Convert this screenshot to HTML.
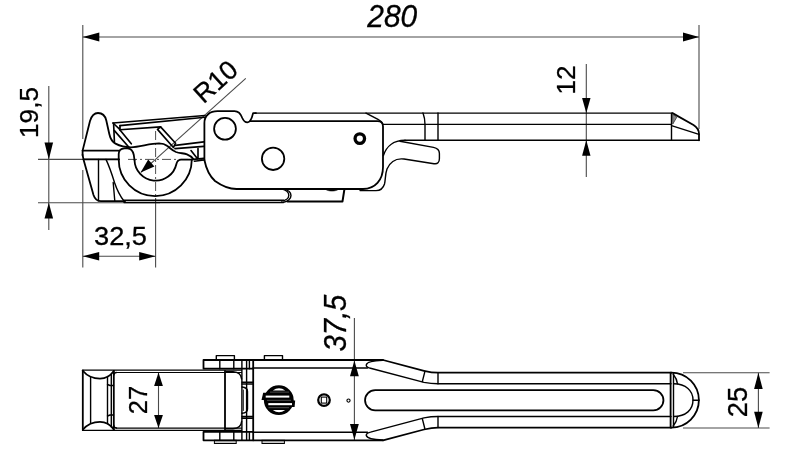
<!DOCTYPE html>
<html>
<head>
<meta charset="utf-8">
<title>Toggle latch dimension drawing</title>
<style>
  html, body { margin: 0; padding: 0; background: #ffffff; }
  body { width: 800px; height: 450px; overflow: hidden; font-family: "Liberation Sans", sans-serif; }
  svg { display: block; }
  .k { fill: none; stroke: #000; stroke-width: 1.8; stroke-linecap: round; stroke-linejoin: round; }
  .m { fill: none; stroke: #000; stroke-width: 1.4; stroke-linecap: round; stroke-linejoin: round; }
  .n { fill: none; stroke: #000; stroke-width: 1.65; stroke-linecap: round; stroke-linejoin: round; }
  .t { fill: none; stroke: #111; stroke-width: 1.0; stroke-linecap: round; stroke-linejoin: round; }
  .d { fill: none; stroke: #4a4a4a; stroke-width: 1.1; }
  .c { fill: none; stroke: #222; stroke-width: 0.8; stroke-dasharray: 9 3 2 3; }
  .a { fill: #000; stroke: none; }
  text { font-family: "Liberation Sans", sans-serif; fill: #000; stroke: #000; stroke-width: 0.3; }
</style>
</head>
<body>
<svg width="800" height="450" viewBox="0 0 800 450" style="will-change: transform; opacity: 0.999">
<rect x="0" y="0" width="800" height="450" fill="#ffffff"/>

<!-- ================= DIMENSIONS : TOP VIEW ================= -->
<g id="dims-top">
  <!-- 280 -->
  <line class="d" x1="82.8" y1="25" x2="82.8" y2="139"/>
  <line class="d" x1="82.8" y1="170" x2="82.8" y2="267.5"/>
  <line class="d" x1="699" y1="25" x2="699" y2="129"/>
  <line class="d" x1="82.8" y1="37" x2="699" y2="37"/>
  <polygon class="a" points="82.8,37 99.3,32.5 99.3,41.5"/>
  <polygon class="a" points="699,37 683,32.5 683,41.5"/>
  <text id="t280" x="392.3" y="26.8" font-size="31.8" font-style="italic" text-anchor="middle" textLength="50" lengthAdjust="spacingAndGlyphs">280</text>

  <!-- 12 -->
  <line class="d" x1="586.3" y1="64" x2="586.3" y2="177"/>
  <polygon class="a" points="586.3,113 582.1,98 590.5,98"/>
  <polygon class="a" points="586.3,140.3 582.1,155.8 590.5,155.8"/>
  <text id="t12" transform="translate(574.7,94.6) rotate(-90)" font-size="26.2">12</text>

  <!-- 19,5 -->
  <line class="d" x1="48.8" y1="86" x2="48.8" y2="230"/>
  <line class="d" x1="38" y1="159.4" x2="120" y2="159.4"/>
  <line class="d" x1="38" y1="202.75" x2="160" y2="202.75"/>
  <polygon class="a" points="48.8,159.4 44.5,142.5 53.1,142.5"/>
  <polygon class="a" points="48.8,202.75 44.5,218.5 53.1,218.5"/>
  <text id="t195" transform="translate(38.2,138) rotate(-90)" font-size="26.2">19,5</text>

  <!-- 32,5 -->
  <line class="c" x1="155.6" y1="131" x2="155.6" y2="200"/>
  <line class="d" x1="155.6" y1="198" x2="155.6" y2="267.5"/>
  <line class="d" x1="82.8" y1="256.2" x2="155.6" y2="256.2"/>
  <polygon class="a" points="82.8,256.2 99.2,252 99.2,260.4"/>
  <polygon class="a" points="155.6,256.2 139.2,252 139.2,260.4"/>
  <text id="t325" x="94" y="245.4" font-size="25.8" textLength="53" lengthAdjust="spacingAndGlyphs">32,5</text>

  <!-- R10 leader -->
  <line class="d" x1="245.8" y1="78.3" x2="141" y2="172.3"/>
  <polygon class="a" points="140.6,172.6 148.2,159.6 154.4,166.6"/>
  <text id="tR10" transform="translate(203.6,104.6) rotate(-42)" font-size="26.5">R10</text>

  <!-- centre lines -->
  <line class="c" x1="128" y1="159.4" x2="192" y2="159.4"/>
</g>

<!-- ================= TOP VIEW (side elevation) ================= -->
<g id="view-side">
  <!-- catch hook -->
  <path class="k" d="M82.6,155 L82.6,150.6 L90,121 C92,114.5 95,113 98,113 C102,113 105,115 106.3,120.5 L109.3,134 C110.5,139.5 112.5,142 115.5,143.6 C120,146 125,147.3 131,147.3 C140,147 150,143.4 159,143.4 C163,143.5 165.5,144.6 167,145.8 C170,148 172.5,150.6 176,152 C179.5,153.3 184,153.2 187,154.3 C190,155.5 192,157 193.3,159"/>
  <path class="k" d="M82.6,150.6 H118.6"/>
  <path class="k" d="M82.6,155 L83.5,159.4 H118.6"/>
  <path class="k" d="M83.5,159.4 L93.5,195 C95,199.5 97,201.2 101,201.2 H125"/>
  <path class="m" d="M98.5,159.4 V200.5"/>
  <path class="m" d="M106,159.4 C110,168 112.5,176 114.5,182.5 C117,190 120,196 124,201"/>
  <path class="m" d="M113.2,182.5 L114.8,201"/>
  <!-- C hook arcs -->
  <path class="k" d="M118.7,159.4 A36.4,36.4 0 1 0 191.8,159.6"/>
  <path class="k" d="M118.7,159.4 V154 C118.8,150.5 121,148.6 124.5,148.4 H127.5 C131,148.6 133,151 133.8,155 L134.5,160"/>
  <path class="k" d="M134.5,160 A21.2,21.2 0 0 0 176.4,164 C177,161.5 178.5,159.8 181,159.7 L192.5,159.6"/>
  <!-- tray -->
  <path class="n" d="M113,123 L205,115.5"/>
  <path class="n" d="M120,125.6 L205,117.2"/>
  <path class="n" d="M113.6,123.5 L114.4,141.5"/>
  <path class="n" d="M113,123 L120,129.6 M120,125.6 V130"/>
  <path class="n" d="M120,129.8 L160.6,126.9"/>
  <path class="n" d="M114.4,130.6 L128.7,147"/>
  <path class="n" d="M120,130 L131.3,143.8"/>
  <path class="n" d="M160.6,126.9 L175.6,143.2 M157.5,129.4 L173.4,147.5 M157.5,129.4 L160.6,126.9 M173.4,147.5 L175.6,143.2"/>
  <path class="n" d="M175.3,145.4 L203.8,141.9"/>
  <path class="k" d="M175,148.6 L203.8,146.3"/>
  <path class="n" d="M191,150.6 L197.5,158.7 M198,148.5 V158.2"/>
  <path class="n" d="M193,159.4 L203.8,158.4 M194.4,161.2 L203.8,160"/>
  <!-- main body -->
  <path class="k" d="M204.4,160 V123 C204.4,115.5 210,111.2 217.5,111.2 H234.5 C239,111.2 240.8,114 242.3,118 C243.8,121.5 245.5,122.4 247.5,122.4 C250,122.4 251.6,119.5 253.1,113.1 H256"/>
  <path class="m" d="M255,113.1 H672.5"/>
  <path class="k" d="M250.5,121.2 H377.5 C381,121.2 383,123 383,126.5 V167 C383,180 375,189 363,189 H236.5 C229,189 222,186 215,181 C209.5,176 206,168 204.4,160"/>
  <path class="m" d="M366,113.1 L378,119.4 C380,120.5 381.5,121.5 382.5,123.5"/>
  <circle class="k" cx="225" cy="128.8" r="10.9"/>
  <circle class="k" cx="273.1" cy="158.8" r="11.2"/>
  <circle cx="359.8" cy="138.6" r="4.75" fill="none" stroke="#000" stroke-width="3.3"/>
  <!-- handle -->
  <path class="m" d="M383,124.4 H671.5"/>
  <path class="m" d="M405,140.25 H699"/>
  <path class="m" d="M423,113 C424.5,117 425,120 425,124.4 V140"/>
  <path class="m" d="M438,113 V140"/>
  <path class="k" d="M672.5,113.1 L693.5,125 C697,127.2 699,130 699,134 V140.25"/>
  <path class="m" d="M671.5,113.1 V140.25"/>
  <path class="m" d="M671.5,125.6 L699,134.4"/>
  <path d="M672.5,114.2 L676.9,117.1 L672.8,124 Z" fill="#888" stroke="#222" stroke-width="0.7"/>
  <!-- lever -->
  <path class="m" d="M383.4,155.5 C386,147 393,140.25 405,140.25"/>
  <path class="m" d="M400,141.3 L433.5,147.4 C437.5,148.2 439.4,150 439.4,153.5 V158.5 C439.4,162.5 437.5,164.3 434,163.7 L404,159 C396,158 390.5,161 387,169 C385,174.5 385.6,180 384.5,184 C383,189 380,190.6 376,190.6 H360"/>
  <!-- bottom plate -->
  <path class="m" d="M124,200.3 H283.5 M124,202.5 H283.5"/>
  <path class="m" d="M283.5,188.9 C288,190 291,192.5 291,195.5 C291,198.5 288,201.5 283.5,202.3"/>
  <path class="m" d="M281.5,188.9 C286,190 288.8,192.5 288.8,195.3 C288.8,198 286,200.5 281.5,201"/>
  <path class="k" d="M287.5,201.4 H342.5 L344.4,189.4" style="stroke-width:2"/>
  <path d="M325.5,189.2 C328,191.6 336,191.6 338.5,189.2 Z" fill="#000" stroke="#000" stroke-width="0.6"/>
</g>

<!-- ================= DIMENSIONS : PLAN VIEW ================= -->
<g id="dims-plan">
  <!-- 27 -->
  <line class="d" x1="158.5" y1="372.5" x2="158.5" y2="428"/>
  <polygon class="a" points="158.5,372.5 154.1,386 162.9,386"/>
  <polygon class="a" points="158.5,428 154.1,415 162.9,415"/>
  <text id="t27" transform="translate(147,414.3) rotate(-90)" font-size="25.5">27</text>
  <!-- 37,5 -->
  <line class="d" x1="354.4" y1="318" x2="354.4" y2="440"/>
  <polygon class="a" points="354.4,360.5 350,376.3 358.8,376.3"/>
  <polygon class="a" points="354.4,439.8 350,424 358.8,424"/>
  <text id="t375" transform="translate(346.3,351.6) rotate(-90)" font-size="32" font-style="italic" textLength="57" lengthAdjust="spacingAndGlyphs">37,5</text>
  <!-- 25 -->
  <line class="d" x1="683" y1="372.7" x2="769.6" y2="372.7"/>
  <line class="d" x1="683" y1="428" x2="769.6" y2="428"/>
  <line class="d" x1="758.4" y1="372.7" x2="758.4" y2="428"/>
  <polygon class="a" points="758.4,372.7 754.1,389 762.7,389"/>
  <polygon class="a" points="758.4,428 754.1,411.8 762.7,411.8"/>
  <text id="t25" transform="translate(747.3,417.2) rotate(-90)" font-size="27.4">25</text>
</g>

<!-- ================= PLAN VIEW ================= -->
<g id="view-plan">
  <!-- left catch -->
  <path class="k" d="M82.8,370.3 V430.2"/>
  <path class="m" d="M82.8,370.2 H241.5 M82.8,430.3 H241.5" style="stroke-width:1.3"/>
  <path class="m" d="M116,372.5 H241.5 M116,428.1 H241.5" style="stroke-width:1.15"/>
  <path class="m" d="M90.6,377 V423.3"/>
  <path class="k" d="M83,371 C88,377 94,378.6 100,378.6 C106,378.6 110,376.5 113.8,371"/>
  <path class="k" d="M83,429.5 C88,423.5 94,421.8 100,421.8 C106,421.8 110,424 113.8,429.5"/>
  <path class="m" d="M107.5,376.5 V423.8 M111.3,385.5 V415"/>
  <path class="k" d="M113.8,371 V429.5"/>
  <path class="m" d="M107.5,384.5 L110,385.5 H113.5 M107.5,416 L110,415 H113.5 M111.3,374 V385.5 M111.3,415 V427"/>
  <path class="m" d="M113.8,375 C113.8,373.5 114.8,372.5 116.5,372.5 M113.8,425.5 C113.8,427 114.8,428 116.5,428"/>
  <!-- hinge bars -->
  <rect class="m" x="216.3" y="355.6" width="18.1" height="4.3"/>
  <rect class="m" x="264.4" y="355.6" width="18.1" height="4.3"/>
  <rect x="214.4" y="440.3" width="21.8" height="3.2" fill="#ccc" stroke="#000" stroke-width="1"/>
  <rect x="262" y="440.3" width="22.4" height="3.2" fill="#ccc" stroke="#000" stroke-width="1"/>
  <path class="k" d="M203.5,360 H383 M203.5,360 V368.7 H253 M203.5,440.3 H383 M203.5,440.3 V431.8 H253"/>
  <path class="m" d="M219.8,360 V368.7 M233.8,360 V368.7 M241.9,360 V440.3 M246.6,360 V440.3 M249.4,360 V368.7 M219.8,440.3 V431.8 M233.8,440.3 V431.8 M249.4,440.3 V431.8"/>
  <path class="k" d="M253.2,360 V440.3"/>
  <path class="m" d="M253,368 H367.5 M253,432.2 H367.5"/>
  <!-- keeper block -->
  <path class="k" d="M225,371 V429.5"/>
  <path class="m" d="M226,371.6 H233 C238,372 241.3,374.5 241.6,379 M226,428.8 H233 C238,428.4 241.3,426 241.6,421.5"/>
  <path class="m" d="M242,382.2 H253 M242,384 H253 M242,416.5 H253 M242,418.3 H253"/>
  <path class="m" d="M242,387 C245.5,387.3 247.5,388.8 247.5,391.5 V409 C247.5,411.5 245.5,413 242,413.3"/>
  <path class="t" d="M243.3,390 V410.5"/>
  <!-- screw -->
  <circle cx="278.8" cy="400.2" r="14.9" fill="#000"/>
  <path d="M272.8,390.4 Q279,386 285.2,390.4 Z" fill="#fff"/>
  <path d="M272.8,410.1 Q279,414.5 285.2,410.1 Z" fill="#fff"/>
  <path d="M263.2,392.8 H291.4 V400.1 H261.5 Z" fill="#000"/>
  <path d="M266.1,400.4 H295.2 L294.6,407 H266.1 Z" fill="#000"/>
  <rect x="265.7" y="395.6" width="23.6" height="2" fill="#fff"/>
  <rect x="268.3" y="403.1" width="23.7" height="2.1" fill="#fff"/>
  <path d="M270,392.1 H289 M267,400.3 H291 M268.5,407.7 H289" fill="none" stroke="#fff" stroke-width="0.5" opacity="0.6"/>
  <!-- small pin -->
  <circle cx="324" cy="400.1" r="5.8" fill="#fff" stroke="#000" stroke-width="2.2"/>
  <rect x="321.3" y="397.1" width="5.4" height="6" fill="none" stroke="#000" stroke-width="1.1"/>
  <circle cx="348.5" cy="400.6" r="1.6" fill="#fff" stroke="#000" stroke-width="1.1"/>
  <!-- fork arms -->
  <path class="k" d="M383,360 L424,370.8 C429,372 433,372.7 438,372.7 H671.3"/>
  <path class="k" d="M383,440.3 L424,429.5 C429,428.3 433,427.6 438,427.6 H671.3"/>
  <path class="m" d="M382.5,360.4 C375,360.6 367,362 366.3,364.8 C366,366.5 368,367.6 370.5,368.2 L424,382.4 C429,383.4 433,383.8 438,383.8 H671"/>
  <path class="m" d="M382.5,439.9 C375,439.7 367,438.3 366.3,435.5 C366,433.8 368,432.7 370.5,432.1 L424,417.9 C429,416.9 433,416.5 438,416.5 H671"/>
  <path class="m" d="M438,372.7 V383.8 M438,427.6 V416.5 M424.8,371.8 L422.3,381.6 M424.8,428.5 L422.3,418.7"/>
  <!-- slot -->
  <path class="k" d="M375.2,390.1 H653.3 A10.15,10.15 0 0 1 653.3,410.4 H375.2 A10.15,10.15 0 0 1 375.2,390.1 Z"/>
  <!-- handle tip -->
  <path class="k" d="M671.3,372.6 A27.6,27.5 0 0 1 671.3,427.6"/>
  <path class="m" d="M673.6,383.8 C686,384 693,390.5 693,400.1 C693,409.8 686,416.3 673.6,416.5"/>
  <path class="m" d="M693,400.2 H699"/>
  <path class="k" d="M670.6,372.6 V427.6"/>
  <path class="m" d="M673.5,373 V427.3"/>
  <path class="m" d="M673.2,374.2 C675.5,377 677,380 677.5,383.8 M673.2,426 C675.5,423.2 677,420.2 677.5,416.5"/>
</g>
</svg>
</body>
</html>
